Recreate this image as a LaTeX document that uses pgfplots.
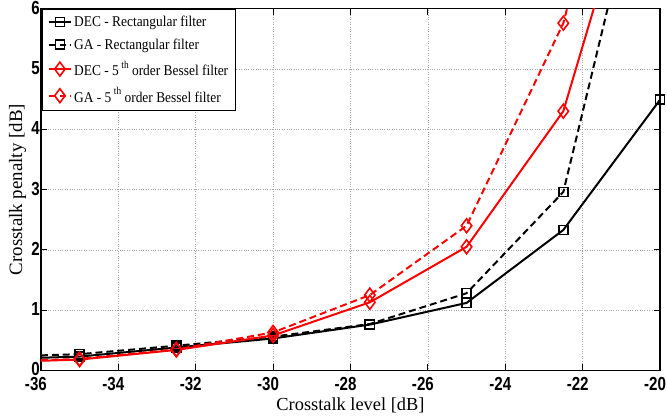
\documentclass[border=0pt]{standalone}
\usepackage{fontspec}
\setmainfont{Liberation Serif}
\newfontfamily\ticksans[FakeStretch=0.8]{Liberation Sans}
\newfontfamily\legfont[FakeStretch=0.9]{Liberation Serif}
\usepackage{pgfplots}
\pgfplotsset{compat=1.18}
\newcommand{\thsup}{\,\raisebox{7.5pt}{\fontsize{10.5}{10.5}\selectfont th}}
\begin{document}
\begin{tikzpicture}
\begin{axis}[
  width=623pt, height=364pt, scale only axis,
  xmin=-36, xmax=-20, ymin=0, ymax=6,
  xtick={-36,-34,...,-20}, ytick={0,1,...,6},
  grid=major, grid style={dotted, gray!70, line width=0.7pt},
  axis line style={line width=1.3pt},
  tick style={line width=0.8pt, black}, tick align=inside, major tick length=6pt,
  ticklabel style={font=\ticksans\bfseries\fontsize{19}{19}\selectfont, inner sep=1pt},
  /pgf/number format/assume math mode=true,
  xticklabel style={yshift=-6pt, xshift=-5pt},
  yticklabel style={yshift=1pt},
  xlabel={Crosstalk level [dB]}, ylabel={Crosstalk penalty [dB]},
  xlabel style={font=\fontsize{18.5}{18.5}\selectfont, yshift=-2pt},
  ylabel style={font=\fontsize{19}{19}\selectfont, inner sep=9pt, yshift=-5pt},
  legend cell align=left,
  legend style={at={(rel axis cs:0.002,1)}, anchor=north west, draw=black, line width=1pt,
    font=\legfont\fontsize{15}{17}\selectfont, inner sep=5pt, row sep=6.5pt},
  legend image code/.code={
    \draw[mark=none] (0cm,0cm) -- (0.8cm,0cm);
    \draw[mark indices={1}] plot coordinates {(0.4cm,0cm)};},
]
\addplot[black, line width=2pt, mark=square, mark size=4.6pt, mark options={solid, line width=1.6pt}, mark indices={2,...,8}]
  coordinates {(-36,0.21) (-35,0.23) (-32.5,0.38) (-30,0.53) (-27.5,0.76) (-25,1.12) (-22.5,2.33) (-20,4.49)};
\addlegendentry{DEC - Rectangular filter}
\addplot[black, line width=2pt, dash pattern=on 7pt off 4pt, mark=square, mark size=4.6pt, mark options={solid, line width=1.6pt}, mark indices={2,...,8}]
  coordinates {(-36,0.25) (-35,0.27) (-32.5,0.41) (-30,0.56) (-27.5,0.77) (-25,1.28) (-22.5,2.96) (-20,9.6)};
\addlegendentry{GA - Rectangular filter}
\addplot[red, line width=2pt, mark=diamond, mark size=7pt, mark options={solid, line width=1.6pt}, mark indices={2,...,8}]
  coordinates {(-36,0.16) (-35,0.18) (-32.5,0.34) (-30,0.58) (-27.5,1.13) (-25,2.05) (-22.5,4.3) (-20,9.7)};
\addlegendentry{DEC - 5\thsup{} order Bessel filter}
\addplot[red, line width=2pt, dash pattern=on 7pt off 4pt, mark=diamond, mark size=7pt, mark options={solid, line width=1.6pt}, mark indices={2,...,8}]
  coordinates {(-36,0.17) (-35,0.19) (-32.5,0.35) (-30,0.63) (-27.5,1.25) (-25,2.4) (-22.5,5.76) (-20,12)};
\addlegendentry{GA - 5\thsup{} order Bessel filter}
\end{axis}
\end{tikzpicture}
\end{document}
